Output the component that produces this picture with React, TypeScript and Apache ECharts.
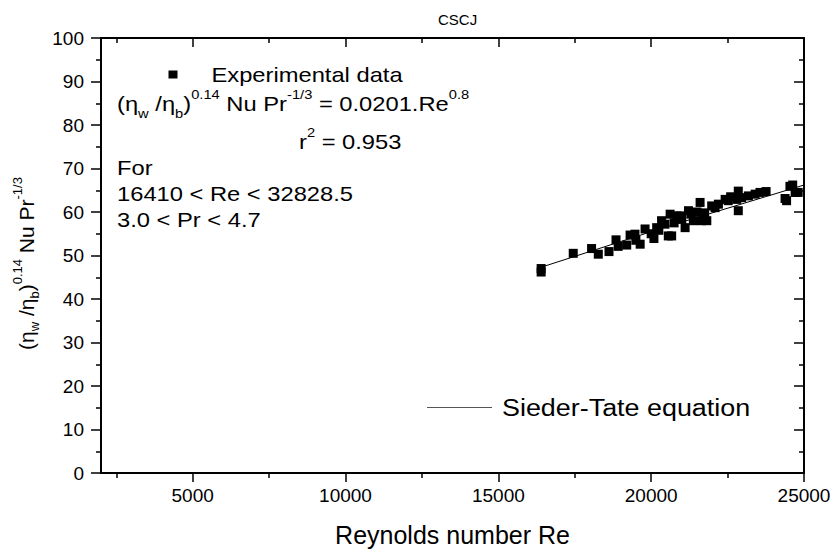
import React, { useEffect, useRef } from "react";
import * as echarts from "echarts";

const chartTitle = "CSCJ";
const xAxisTitle = "Reynolds number Re";
const reynolds = [
  16400, 16400, 17450, 18050, 18270, 18620, 18850, 18920, 19200, 19310,
  19470, 19500, 19640, 19800, 20000, 20090, 20180, 20250, 20340, 20450,
  20560, 20620, 20670, 20750, 20840, 20940, 21000, 21110, 21220, 21300,
  21380, 21500, 21600, 21650, 21750, 21820, 21980, 22090, 22200, 22420,
  22520, 22600, 22800, 22850, 22850, 22960, 23180, 23400, 23560, 23760,
  24380, 24430, 24540, 24630, 24710, 24810,
];
const nusseltGroup = [
  46.2, 47.0, 50.5, 51.6, 50.3, 50.9, 53.6, 52.1, 52.4, 54.7,
  54.9, 53.5, 52.6, 56.1, 55.0, 53.9, 56.4, 55.8, 58.0, 57.2,
  54.5, 59.5, 54.5, 57.5, 59.1, 59.1, 58.3, 56.4, 60.3, 59.5,
  58.0, 60.0, 62.2, 58.0, 59.8, 58.0, 61.4, 61.0, 61.8, 62.9,
  62.6, 63.5, 62.9, 64.8, 60.3, 63.3, 63.7, 64.1, 64.5, 64.7,
  63.1, 62.6, 65.9, 66.2, 64.5, 64.5,
];
const fitRe = [16400, 20500, 25000];
const fitValue = [47.3, 56.6, 66.2];
const xMajorTicks = [5000, 10000, 15000, 20000, 25000];
const xMinorTicks = [2500, 7500, 12500, 17500, 22500];

const FONT = '"Liberation Sans", Arial, Helvetica, sans-serif';

export default function App() {
  const ref = useRef<HTMLDivElement>(null);

  useEffect(() => {
    const chart = echarts.init(ref.current!, null, { renderer: "svg" });
    const scatterData = reynolds.map((r, i) => [r, nusseltGroup[i]]);
    const fitData = fitRe.map((r, i) => [r, fitValue[i]]);

    const xBase = {
      type: "value",
      min: 2000,
      max: 25000,
      splitLine: { show: false },
    };
    const blackLine = { color: "#000", width: 2 };
    const tickStyle = { color: "#000", width: 1.5 };

    const annRich = {
      m: { fontSize: 21, fontFamily: FONT, lineHeight: 32, fill: "#000" },
      sub: { fontSize: 13, fontFamily: FONT, verticalAlign: "bottom", lineHeight: 22, fill: "#000" },
      sup: { fontSize: 13, fontFamily: FONT, verticalAlign: "top", lineHeight: 13, fill: "#000" },
    };
    const plainText = (text: string, x: number, y: number) => ({
      type: "text",
      x,
      y,
      scaleX: 1.13,
      style: { text, fontSize: 21, fontFamily: FONT, fill: "#000", verticalAlign: "middle" },
    });

    chart.setOption({
      animation: false,
      backgroundColor: "#fff",
      title: {
        text: chartTitle,
        left: 433,
        top: 7,
        textStyle: { fontSize: 15, fontWeight: "normal", fontFamily: FONT, color: "#000" },
      },
      grid: { left: 101, top: 38, right: 30, bottom: 78, containLabel: false },
      xAxis: [
        {
          ...xBase,
          position: "bottom",
          axisLine: { show: true, lineStyle: blackLine },
          axisTick: { show: true, customValues: xMajorTicks, length: 9, lineStyle: tickStyle },
          axisLabel: {
            show: true,
            customValues: xMajorTicks,
            formatter: (v: number) => String(v),
            fontSize: 19,
            fontFamily: FONT,
            color: "#000",
            margin: 13,
          },
          name: xAxisTitle,
          nameLocation: "middle",
          nameGap: 49,
          nameTextStyle: { fontSize: 25, fontFamily: FONT, color: "#000" },
        },
        {
          ...xBase,
          position: "bottom",
          axisLine: { show: false },
          axisTick: { show: true, customValues: xMinorTicks, length: 5, lineStyle: tickStyle },
          axisLabel: { show: false },
        },
        {
          ...xBase,
          position: "top",
          axisLine: { show: true, lineStyle: blackLine },
          axisTick: { show: true, inside: true, customValues: xMajorTicks, length: 9, lineStyle: tickStyle },
          axisLabel: { show: false },
        },
        {
          ...xBase,
          position: "top",
          axisLine: { show: false },
          axisTick: { show: true, inside: true, customValues: xMinorTicks, length: 5, lineStyle: tickStyle },
          axisLabel: { show: false },
        },
      ],
      yAxis: [
        {
          type: "value",
          position: "left",
          min: 0,
          max: 100,
          interval: 10,
          splitLine: { show: false },
          axisLine: { show: true, lineStyle: blackLine },
          axisTick: { show: true, length: 10, lineStyle: tickStyle },
          minorTick: { show: true, splitNumber: 2, length: 5, lineStyle: tickStyle },
          axisLabel: { fontSize: 19, fontFamily: FONT, color: "#000", margin: 17 },
          name: "{m|(η}{sub|w}{m| /η}{sub|b}{m|)}{sup|0.14}{m| Nu Pr}{sup|-1/3}",
          nameLocation: "middle",
          nameGap: 56,
          nameTextStyle: {
            fontSize: 21,
            fontFamily: FONT,
            color: "#000",
            padding: [0, 16, 0, 0],
            rich: {
              m: { fontSize: 21, fontFamily: FONT, color: "#000", lineHeight: 30 },
              sub: { fontSize: 13, fontFamily: FONT, color: "#000", verticalAlign: "bottom", lineHeight: 16 },
              sup: { fontSize: 13, fontFamily: FONT, color: "#000", verticalAlign: "top", lineHeight: 13 },
            },
          },
        },
        {
          type: "value",
          position: "right",
          min: 0,
          max: 100,
          interval: 10,
          splitLine: { show: false },
          axisLine: { show: true, lineStyle: blackLine },
          axisTick: { show: true, inside: true, length: 10, lineStyle: tickStyle },
          minorTick: { show: true, splitNumber: 2, length: 5, lineStyle: tickStyle },
          axisLabel: { show: false },
        },
      ],
      series: [
        {
          name: "Sieder-Tate equation",
          type: "line",
          data: fitData,
          showSymbol: false,
          symbol: "none",
          lineStyle: { color: "#000", width: 1 },
          z: 1,
        },
        {
          name: "Experimental data",
          type: "scatter",
          data: scatterData,
          symbol: "rect",
          symbolSize: 9,
          itemStyle: { color: "#000", opacity: 1 },
          z: 2,
        },
      ],
      graphic: [
        { type: "rect", shape: { x: 168.5, y: 70.5, width: 9, height: 8 }, style: { fill: "#000" } },
        plainText("Experimental data", 211.5, 75),
        {
          type: "text",
          x: 117,
          y: 104,
          scaleX: 1.13,
          style: {
            text: "{m|(η}{sub|w}{m| /η}{sub|b}{m|)}{sup|0.14}{m| Nu Pr}{sup|-1/3}{m| = 0.0201.Re}{sup|0.8}",
            fontSize: 21,
            fontFamily: FONT,
            fill: "#000",
            verticalAlign: "middle",
            rich: annRich,
          },
        },
        {
          type: "text",
          x: 299,
          y: 142,
          scaleX: 1.13,
          style: {
            text: "{m|r}{sup|2}{m| = 0.953}",
            fontSize: 21,
            fontFamily: FONT,
            fill: "#000",
            verticalAlign: "middle",
            rich: annRich,
          },
        },
        plainText("For", 117, 168),
        plainText("16410 < Re < 32828.5", 117, 194),
        plainText("3.0 < Pr < 4.7", 117, 220),
        {
          type: "line",
          shape: { x1: 427, y1: 407.5, x2: 492, y2: 407.5 },
          style: { stroke: "#555", lineWidth: 1 },
        },
        {
          type: "text",
          x: 502,
          y: 408,
          scaleX: 1.17,
          style: { text: "Sieder-Tate equation", fontSize: 23, fontFamily: FONT, fill: "#000", verticalAlign: "middle" },
        },
      ],
    });
    return () => chart.dispose();
  }, []);

  return (
    <div
      ref={ref}
      style={{ position: "fixed", left: 0, top: 0, width: 834, height: 552, background: "#fff" }}
    />
  );
}
